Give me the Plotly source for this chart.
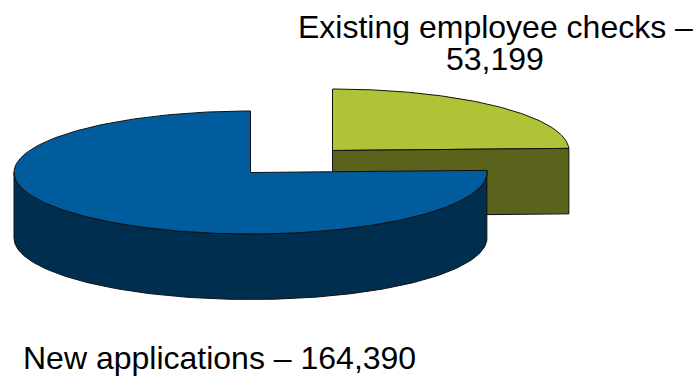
import numpy as np
import plotly.graph_objects as go

# Values shown by the two slices
categories = ["Existing employee checks", "New applications"]
values = [53199, 164390]
label_lines = ["Existing employee checks –", "53,199", "New applications – 164,390"]
label_positions = [(495.5, 27), (494.5, 59), (219, 358)]

# Projection of the tilted pie, in page pixels
RX, RY, DEPTH = 236.5, 61.5, 65.5
CENTRES = [(332.5, 150.5), (250.5, 172.5)]
TOP_COLOURS = ["#B0C236", "#005C9C"]
SIDE_COLOURS = ["#5A621C", "#002E4F"]
OUTLINE = "#111111"

fractions = np.array(values) / sum(values)
spans = np.concatenate([[0], np.cumsum(fractions)]) * 2 * np.pi


def rim(cx, cy, start, stop, n=160):
    """Points along the ellipse, angle measured clockwise from 12 o'clock."""
    t = np.linspace(start, stop, n)
    return cx + RX * np.sin(t), cy - RY * np.cos(t)


def polygon(x, y, fill):
    return go.Scatter(
        x=list(x), y=list(y), mode="lines", fill="toself", fillcolor=fill,
        line=dict(color=OUTLINE, width=1), hoverinfo="skip", showlegend=False,
    )


fig = go.Figure()

# Green slice: top face, then the cut wall that faces the viewer
cx, cy = CENTRES[0]
x, y = rim(cx, cy, spans[0], spans[1])
fig.add_trace(polygon([cx, *x, cx], [cy, *y, cy], TOP_COLOURS[0]))
fig.add_trace(polygon(
    [cx, x[-1], x[-1], cx, cx],
    [cy, y[-1], y[-1] + DEPTH, cy + DEPTH, cy],
    SIDE_COLOURS[0],
))

# Blue slice: curved wall for the front half, then the top face over it
cx, cy = CENTRES[1]
x, y = rim(cx, cy, spans[1], 1.5 * np.pi)
fig.add_trace(polygon(
    [*x, *x[::-1], x[0]],
    [*y, *(y[::-1] + DEPTH), y[0]],
    SIDE_COLOURS[1],
))
x, y = rim(cx, cy, spans[1], spans[2], n=320)
fig.add_trace(polygon([cx, *x, cx], [cy, *y, cy], TOP_COLOURS[1]))

# Labels are placed line by line to keep the tight leading
for text, (lx, ly) in zip(label_lines, label_positions):
    fig.add_annotation(x=lx, y=ly, text=text, showarrow=False,
                       xanchor="center", yanchor="middle")

fig.update_layout(
    width=698, height=381, margin=dict(l=0, r=0, t=0, b=0),
    paper_bgcolor="white", plot_bgcolor="white",
    font=dict(family="Liberation Sans, Arial, sans-serif", size=32, color="#000000"),
    xaxis=dict(range=[0, 698], visible=False, fixedrange=True),
    yaxis=dict(range=[381, 0], visible=False, fixedrange=True),
)

fig.write_html("out.html", config={"displayModeBar": False})
